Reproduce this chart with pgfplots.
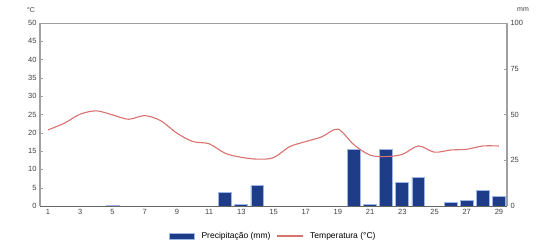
\documentclass[border=0pt]{standalone}
\usepackage{pgfplots}
\pgfplotsset{compat=1.18}
\usepackage{fontspec}
\setmainfont{Liberation Sans}
\definecolor{barblue}{HTML}{1F3C88}
\definecolor{baredge}{HTML}{9DB8E8}
\definecolor{tempred}{HTML}{D9716E}
\definecolor{axgray}{HTML}{A0A0A0}
\begin{document}
\begin{tikzpicture}
\path[use as bounding box] (-40pt,-37pt) rectangle (498pt,206pt);
\pgfplotsset{every axis/.append style={
  scale only axis, width=467pt, height=183pt,
  xmin=0.5, xmax=29.5, clip=false,
  tick label style={font=\fontsize{7.5}{8}\selectfont, text=black!75},
  /pgf/number format/assume math mode=true,
}}
% precipitation (right axis)
\begin{axis}[
  axis y line*=right, axis x line=none,
  ymin=0, ymax=100, ytick={0,25,50,75,100},
  y axis line style={axgray, line width=1.2pt},
  ytick style={axgray},
  major tick length=3pt,
  ybar, bar width=0.8,
]
\addplot[fill=barblue, draw=baredge, line width=0.8pt] coordinates {
(5,0.5) (12,7.3) (13,1) (14,11) (20,31) (21,1) (22,31) (23,13) (24,15.5) (26,2) (27,3) (28,8.6) (29,5)
};
\end{axis}
% temperature (left axis)
\begin{axis}[
  axis x line*=bottom, axis y line*=left,
  ymin=0, ymax=50, ytick={0,5,...,50},
  xtick={1,3,...,29},
  y axis line style={axgray, line width=1.2pt},
  x axis line style={black!60, line width=0.8pt},
  ytick style={axgray}, xtick style={draw=none},
  major tick length=3pt,
  legend style={at={(233pt,-30pt)}, anchor=center, draw=none, legend columns=2,
    font=\fontsize{8.5}{9}\selectfont, column sep=5pt, fill=none,
    /tikz/every even column/.append style={column sep=4pt}},
  legend image post style={xscale=1.5},
  legend cell align=left,
]
\addlegendimage{area legend, fill=barblue, draw=baredge}
\addlegendentry{Precipitação (mm)}
\addplot[tempred, line width=1.1pt, smooth, tension=0.5] coordinates {
(1,20.8) (2,22.6) (3,25.1) (4,26.0) (5,24.9) (6,23.7) (7,24.7) (8,23.3) (9,19.9) (10,17.6)
(11,17.0) (12,14.4) (13,13.3) (14,12.8) (15,13.2) (16,16.2) (17,17.6) (18,18.9) (19,21.0) (20,16.7)
(21,13.9) (22,13.5) (23,14.1) (24,16.4) (25,14.7) (26,15.3) (27,15.5) (28,16.4) (29,16.4)
};
\addlegendentry{Temperatura (°C)}
\draw[axgray, line width=0.8pt] (rel axis cs:0,1) -- (rel axis cs:1,1);
\node[font=\fontsize{7}{8}\selectfont, text=black!75] at (rel axis cs:0,1) [xshift=-9pt, yshift=13pt] {°C};
\node[font=\fontsize{7}{8}\selectfont, text=black!75] at (rel axis cs:1,1) [xshift=16pt, yshift=13pt] {mm};
\end{axis}
\end{tikzpicture}
\end{document}
